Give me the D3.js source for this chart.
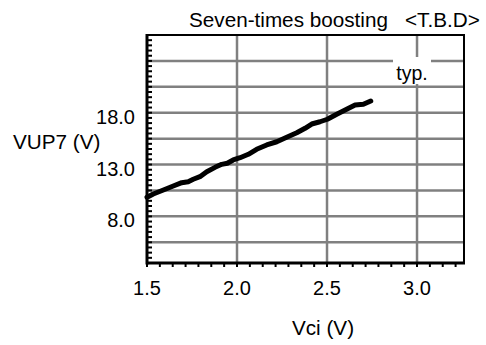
<!DOCTYPE html>
<html><head><meta charset="utf-8">
<script src="https://cdn.jsdelivr.net/npm/d3@7"></script>
<style>html,body{margin:0;padding:0;background:#fff;}svg{display:block;font-family:"Liberation Sans",Arial,Helvetica,sans-serif;}</style>
</head><body>
<script>
const vci = [1.50,1.535,1.591,1.646,1.693,1.729,1.757,1.794,1.832,1.878,1.915,1.946,1.979,2.017,2.063,2.109,2.165,2.221,2.276,2.332,2.378,2.415,2.461,2.502,2.554,2.609,2.656,2.702,2.743];
const vup7 = [9.84,10.16,10.54,10.93,11.25,11.34,11.58,11.83,12.31,12.73,13.02,13.12,13.44,13.66,13.99,14.47,14.89,15.20,15.63,16.07,16.50,16.91,17.13,17.37,17.85,18.33,18.74,18.81,19.13];
const xTicks = [1.5, 2.0, 2.5, 3.0];
const xTickLabels = ["1.5","2.0","2.5","3.0"];
const yGrid = [5.5, 8, 10.5, 13, 15.5, 18, 20.5, 23];
const yTicks = [8, 13, 18];
const yTickLabels = ["8.0","13.0","18.0"];
const title = "Seven-times boosting";
const note = "<T.B.D>";
const xTitle = "Vci (V)";
const yTitle = "VUP7 (V)";
const legendLabel = "typ.";

const W = 486, H = 345;
const L = 147, R = 464, T = 35, B = 263;
const x = d3.scaleLinear().domain([1.5, 3.261]).range([L, R]);
const y = d3.scaleLinear().domain([3.5, 25.5]).range([B, T]);

const svg = d3.select("body").append("svg").attr("width", W).attr("height", H);
const fsTick = "20px", fsTitle = "20.7px", fsNote = "19.5px";

// gridlines
const g = svg.append("g").attr("stroke", "#808080").attr("stroke-width", 2.5);
g.selectAll("line.h").data(yGrid).join("line")
  .attr("x1", L).attr("x2", R).attr("y1", d => y(d)).attr("y2", d => y(d));
g.selectAll("line.v").data(xTicks.slice(1)).join("line")
  .attr("x1", d => x(d)).attr("x2", d => x(d)).attr("y1", T).attr("y2", B);

// legend label box
svg.append("rect").attr("x", 393).attr("y", 57).attr("width", 38).attr("height", 27).attr("fill", "#fff");
svg.append("text").attr("x", 412).attr("y", 80).attr("text-anchor", "middle")
  .style("font-size", fsNote).text(legendLabel);

// data line
svg.append("path").datum(vci.map((v, i) => [v, vup7[i]]))
  .attr("fill", "none").attr("stroke", "#000").attr("stroke-width", 5)
  .attr("stroke-linecap", "round").attr("stroke-linejoin", "round")
  .attr("d", d3.line().x(d => x(d[0])).y(d => y(d[1])));

// frame
svg.append("rect").attr("x", L).attr("y", T).attr("width", R - L).attr("height", B - T)
  .attr("fill", "none").attr("stroke", "#000").attr("stroke-width", 2);
svg.append("line").attr("x1", L).attr("x2", L).attr("y1", T - 1).attr("y2", B + 1.5).attr("stroke", "#000").attr("stroke-width", 3);
svg.append("line").attr("x1", L - 1).attr("x2", R + 1).attr("y1", B).attr("y2", B).attr("stroke", "#000").attr("stroke-width", 3);

// minor ticks (left inside)
const yMinor = d3.range(3.5, 25.51, 0.5);
svg.append("g").selectAll("line").data(yMinor).join("line")
  .attr("x1", L).attr("x2", L + 5).attr("y1", d => y(d)).attr("y2", d => y(d))
  .attr("stroke", "#000").attr("stroke-width", 2);
// minor ticks (bottom outside)
const xMinor = d3.range(0, 25).map(k => 1.5 + k * 0.5 / 7).filter(v => v <= 3.26);
svg.append("g").selectAll("line").data(xMinor).join("line")
  .attr("x1", d => x(d)).attr("x2", d => x(d)).attr("y1", B).attr("y2", B + 4)
  .attr("stroke", "#000").attr("stroke-width", 2);

// tick labels
svg.append("g").selectAll("text").data(xTicks).join("text")
  .attr("x", d => x(d)).attr("y", 295).attr("text-anchor", "middle")
  .style("font-size", fsTick).text((d, i) => xTickLabels[i]);
svg.append("g").selectAll("text").data(yTicks).join("text")
  .attr("x", 135).attr("y", d => y(d) + 11).attr("text-anchor", "end")
  .style("font-size", fsTick).text((d, i) => yTickLabels[i]);

// titles
svg.append("text").attr("x", 189).attr("y", 27).style("font-size", fsTitle).text(title);
svg.append("text").attr("x", 405).attr("y", 27).style("font-size", fsTitle).text(note);
svg.append("text").attr("x", 323).attr("y", 335).attr("text-anchor", "middle").style("font-size", fsTitle).text(xTitle);
svg.append("text").attr("x", 13).attr("y", 149).style("font-size", fsTitle).text(yTitle);
</script>
</body></html>
